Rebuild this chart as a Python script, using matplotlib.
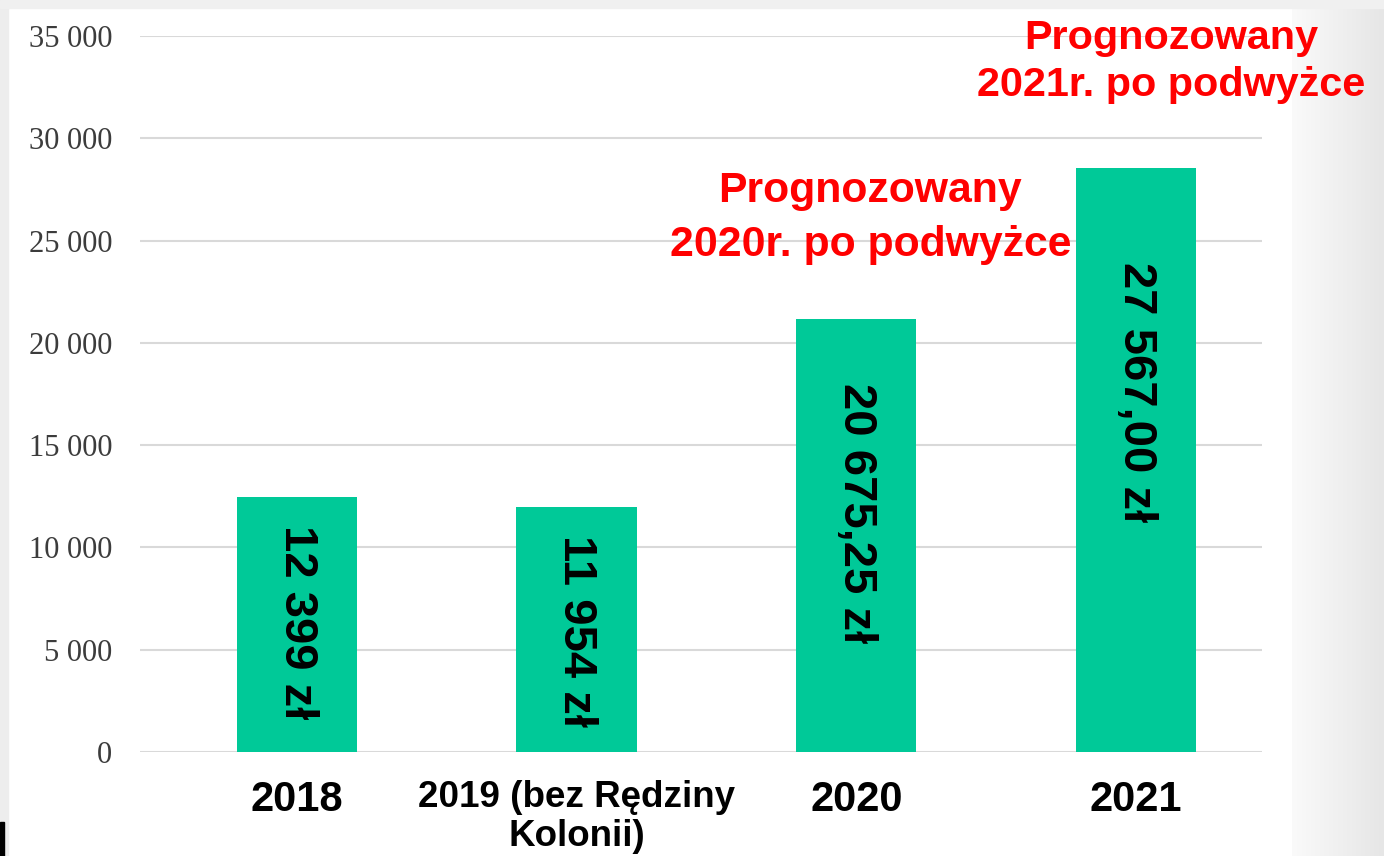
import numpy as np
import matplotlib.pyplot as plt
from matplotlib.patches import Rectangle
from matplotlib.colors import LinearSegmentedColormap

# data
categories = ['2018', '2019 (bez Rędziny\nKolonii)', '2020', '2021']
bar_heights = [12450, 11980, 21150, 28550]
bar_labels = ['12 399 zł', '11 954 zł', '20 675,25 zł', '27 567,00 zł']
yticks = [0, 5000, 10000, 15000, 20000, 25000, 30000, 35000]
notes = ['Prognozowany\n2020r. po podwyżce', 'Prognozowany\n2021r. po podwyżce']
note_pos = [(2.05, 26100), (3.125, 33750)]

green = '#00C998'
red = '#FF0000'

fig = plt.figure(figsize=(13.84, 8.56), dpi=100)
fig.patch.set_facecolor('white')

# background bits of the slide: grey edges and soft gradient on the right
grad = LinearSegmentedColormap.from_list('edge', ['#fafafa', '#e6e6e6'])
gx = np.linspace(0, 1, 200).reshape(1, -1)
bg = fig.add_axes([1292 / 1384, 0, 92 / 1384, 1], zorder=-5)
bg.imshow(np.repeat(gx, 2, axis=0), aspect='auto', cmap=grad, extent=[0, 1, 0, 1])
bg.axis('off')
fig.patches.append(Rectangle((0, 0), 8 / 1384, 1, transform=fig.transFigure,
                             color='#ededed', zorder=-4))
fig.patches.append(Rectangle((0, 1 - 8 / 856), 1, 8 / 856, transform=fig.transFigure,
                             color='#f0f0f0', zorder=-4))
fig.patches.append(Rectangle((0, 0), 4 / 1384, 34 / 856, transform=fig.transFigure,
                             color='black', zorder=-3))

ax = fig.add_axes([140 / 1384, 1 - 752 / 856, 1122 / 1384, 716 / 856])
ax.set_facecolor('none')

x = np.arange(len(categories))
bars = ax.bar(x, bar_heights, width=0.43, color=green, zorder=2)

ax.set_xlim(-0.56, 3.45)
ax.set_ylim(0, 35000)
ax.set_yticks(yticks)
ax.set_yticklabels([f'{v:,}'.replace(',', ' ') for v in yticks],
                   fontfamily='Liberation Serif', fontsize=22, color='#3c3c3c')
ax.yaxis.grid(True, color='#d9d9d9', linewidth=1.5, zorder=0)
ax.set_axisbelow(True)
ax.tick_params(axis='y', length=0, pad=20)
ax.tick_params(axis='x', length=0, pad=20)
for s in ax.spines.values():
    s.set_visible(False)

ax.set_xticks(x)
ax.set_xticklabels(categories, fontfamily='Liberation Sans', fontweight='bold',
                   fontsize=30, color='black', va='top', linespacing=1.15)
ax.get_xticklabels()[1].set_fontsize(26.5)

# rotated value labels inside bars, offset from the bar top in pixels
offsets = [28, 28, 64, 94]
for b, lab, off in zip(bars, bar_labels, offsets):
    ax.annotate(lab, (b.get_x() + b.get_width() / 2, b.get_height()),
                xytext=(0, -off * 0.72), textcoords='offset points',
                rotation=-90, ha='center', va='top', fontsize=34,
                fontweight='bold', fontfamily='Liberation Sans', color='black',
                zorder=3)

note_sizes = [30.8, 29.8]
note_spacing = [1.45, 1.32]
for txt, (nx, ny), fs, ls in zip(notes, note_pos, note_sizes, note_spacing):
    ax.text(nx, ny, txt, ha='center', va='center', fontsize=fs,
            fontweight='bold', fontfamily='Liberation Sans', color=red,
            linespacing=ls, clip_on=False, zorder=4)

fig.savefig('out.png', dpi=100)
